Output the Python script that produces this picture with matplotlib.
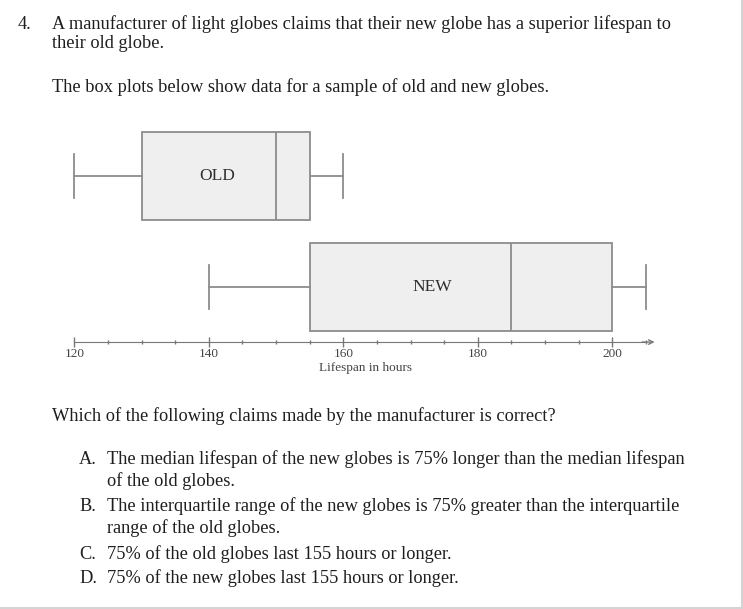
import matplotlib
matplotlib.use("Agg")
import matplotlib.pyplot as plt
from matplotlib.ticker import FixedLocator

# box plot values (hours)
groups = ["OLD", "NEW"]
mins = [120, 140]
q1s = [130, 155]
meds = [150, 185]
q3s = [155, 200]
maxs = [160, 205]
tick_vals = [120, 140, 160, 180, 200]
minor_vals = [125, 130, 135, 145, 150, 155, 165, 170, 175, 185, 190, 195, 205]

plt.rcParams["font.family"] = ["Liberation Serif", "DejaVu Serif"]
txt_col = "#1e1e1e"
line_col = "#8c8c8c"
fs = 13.2

W, H = 743, 609
fig = plt.figure(figsize=(W / 100, H / 100), dpi=100)


def fx(px):
    return px / W


def fy(py):
    return 1 - py / H


# question text (pixel positions, baseline)
fig.text(fx(18), fy(29), "4.", fontsize=fs, color=txt_col, va="baseline")
fig.text(fx(52), fy(29), "A manufacturer of light globes claims that their new globe has a superior lifespan to",
         fontsize=fs, color=txt_col, va="baseline")
fig.text(fx(52), fy(48), "their old globe.", fontsize=fs, color=txt_col, va="baseline")
fig.text(fx(52), fy(92), "The box plots below show data for a sample of old and new globes.",
         fontsize=fs, color=txt_col, va="baseline")

fig.text(fx(52), fy(421), "Which of the following claims made by the manufacturer is correct?",
         fontsize=fs, color=txt_col, va="baseline")
options = [
    ("A.", ["The median lifespan of the new globes is 75% longer than the median lifespan",
            "of the old globes."]),
    ("B.", ["The interquartile range of the new globes is 75% greater than the interquartile",
            "range of the old globes."]),
    ("C.", ["75% of the old globes last 155 hours or longer."]),
    ("D.", ["75% of the new globes last 155 hours or longer."]),
]
base_y = [[464, 486], [511, 533], [559], [583]]
for (letter, lines), ys in zip(options, base_y):
    fig.text(fx(79), fy(ys[0]), letter, fontsize=fs, color=txt_col, va="baseline")
    for line, y in zip(lines, ys):
        fig.text(fx(107), fy(y), line, fontsize=fs, color=txt_col, va="baseline")

# box plots
ax = fig.add_axes([fx(40), fy(390), 660 / W, 270 / H])
stats = []
for g, lo, a, m, b, hi in zip(groups, mins, q1s, meds, q3s, maxs):
    stats.append(dict(label=g, whislo=lo, q1=a, med=m, q3=b, whishi=hi))

positions = [2, 1]
ax.bxp(stats, positions=positions, widths=0.795, orientation="horizontal",
       patch_artist=True, showfliers=False, capwidths=0.4,
       boxprops=dict(facecolor="#efefef", edgecolor=line_col, linewidth=1.3),
       whiskerprops=dict(color=line_col, linewidth=1.3),
       capprops=dict(color=line_col, linewidth=1.3),
       medianprops=dict(color=line_col, linewidth=1.3))

label_x = [141.2, 173.3]
for g, lx, p in zip(groups, label_x, positions):
    ax.text(lx, p, g, fontsize=12.5, color="#2e2e2e", ha="center", va="center")

ax.set_ylim(0.067, 2.506)
ax.set_yticks([])
for s in ["top", "right", "left"]:
    ax.spines[s].set_visible(False)
ax.spines["bottom"].set_position(("data", 0.5))
ax.spines["bottom"].set_bounds(120, 205)
ax.spines["bottom"].set_color("#777777")
ax.set_xticks(tick_vals)
ax.xaxis.set_minor_locator(FixedLocator(minor_vals))
ax.tick_params(which="major", direction="inout", length=7, width=1, color="#777777",
               labelsize=9.5, labelcolor="#444444", pad=0.5)
ax.tick_params(which="minor", direction="inout", length=3, width=1, color="#777777")
ax.set_xlim(114.9, 213.04)
ax.annotate("", xy=(206.7, 0.5), xytext=(204, 0.5),
            arrowprops=dict(arrowstyle="->", color="#777777", lw=1, mutation_scale=8))
ax.patch.set_alpha(0)

fig.text(fx(365.5), fy(368.5), "Lifespan in hours", fontsize=9.5, color="#444444",
         ha="center", va="center")

# light border on right and bottom edges
fig.add_artist(plt.Line2D([fx(742), fx(742)], [0, 1], color="#d4d4d4", lw=1.5))
fig.add_artist(plt.Line2D([0, 1], [fy(608), fy(608)], color="#d4d4d4", lw=1.5))

fig.savefig("out.png", dpi=100)
